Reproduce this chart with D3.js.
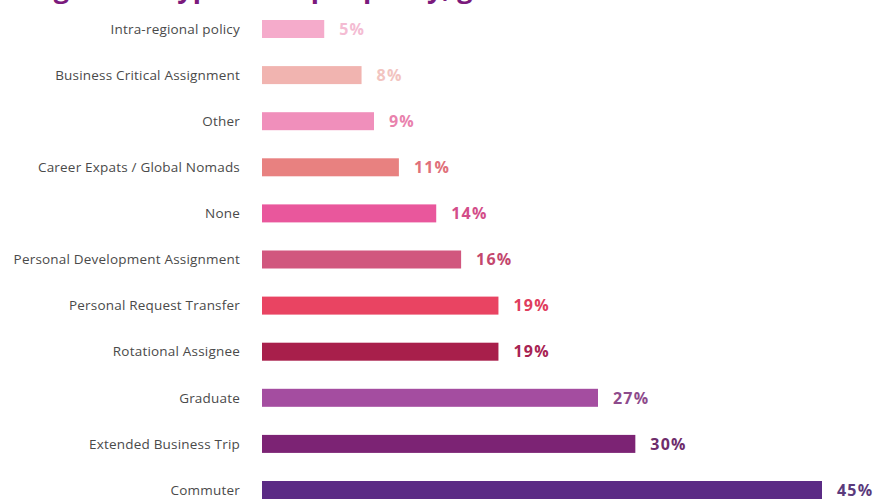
<!DOCTYPE html>
<head>
    <meta charset="utf-8">
    <title>Assignment types</title>
    <script src="https://d3js.org/d3.v7.min.js"></script>
    <style>
    body {
        margin: 0;
        background: #ffffff;
        overflow: hidden;
    }
    </style>
</head>

<body>
    <script>
    var categories = [
        "Intra-regional policy",
        "Business Critical Assignment",
        "Other",
        "Career Expats / Global Nomads",
        "None",
        "Personal Development Assignment",
        "Personal Request Transfer",
        "Rotational Assignee",
        "Graduate",
        "Extended Business Trip",
        "Commuter"
    ];
    var values = [5, 8, 9, 11, 14, 16, 19, 19, 27, 30, 45];
    var barColors = ["#f5abcb", "#f1b4b0", "#f08fbb", "#e88180", "#e9579c", "#d1577e",
                     "#e94462", "#a81f4b", "#a44da0", "#7c2374", "#5b2b85"];
    var labelColors = ["#f4bcd3", "#f2c4c0", "#e982ad", "#e0707a", "#d34d89", "#c4476e",
                       "#e03d5d", "#a82352", "#8e4b8c", "#6e2c6b", "#5b3a7c"];
    var title = "Assignment types in expat policy, global";

    var width = 887,
        height = 499;

    var svg = d3.select("body").append("svg")
        .attr("width", width)
        .attr("height", height);

    var x = d3.scaleLinear().domain([0, 45]).range([262, 822]);
    var y = d3.scalePoint().domain(categories).range([29, 490]);
    var barH = 18;

    // title is cropped at the top of the picture
    svg.append("text")
        .attr("x", 0)
        .attr("y", -2)
        .attr("fill", "#7b1a7c")
        .style("font-family", "'Open Sans', sans-serif")
        .style("font-weight", "bold")
        .style("font-size", "27px")
        .text(title);

    var rows = svg.selectAll("g.row")
        .data(categories)
        .enter().append("g")
        .attr("class", "row");

    rows.append("text")
        .attr("x", 240)
        .attr("y", function(d) { return y(d); })
        .attr("dy", "0.35em")
        .attr("text-anchor", "end")
        .attr("fill", "#4a4a4a")
        .style("font-family", "'Open Sans', sans-serif")
        .style("font-size", "13.5px")
        .style("letter-spacing", "0.2px")
        .text(function(d) { return d; });

    rows.append("rect")
        .attr("x", x(0))
        .attr("y", function(d) { return y(d) - barH / 2; })
        .attr("height", barH)
        .attr("width", function(d, i) { return x(values[i]) - x(0); })
        .attr("fill", function(d, i) { return barColors[i]; });

    rows.append("text")
        .attr("x", function(d, i) { return x(values[i]) + 15; })
        .attr("y", function(d) { return y(d); })
        .attr("dy", "0.36em")
        .attr("fill", function(d, i) { return labelColors[i]; })
        .style("font-family", "'Open Sans', sans-serif")
        .style("font-weight", "bold")
        .style("font-size", "16px")
        .style("letter-spacing", "1.2px")
        .text(function(d, i) { return values[i] + "%"; });
    </script>
</body>
